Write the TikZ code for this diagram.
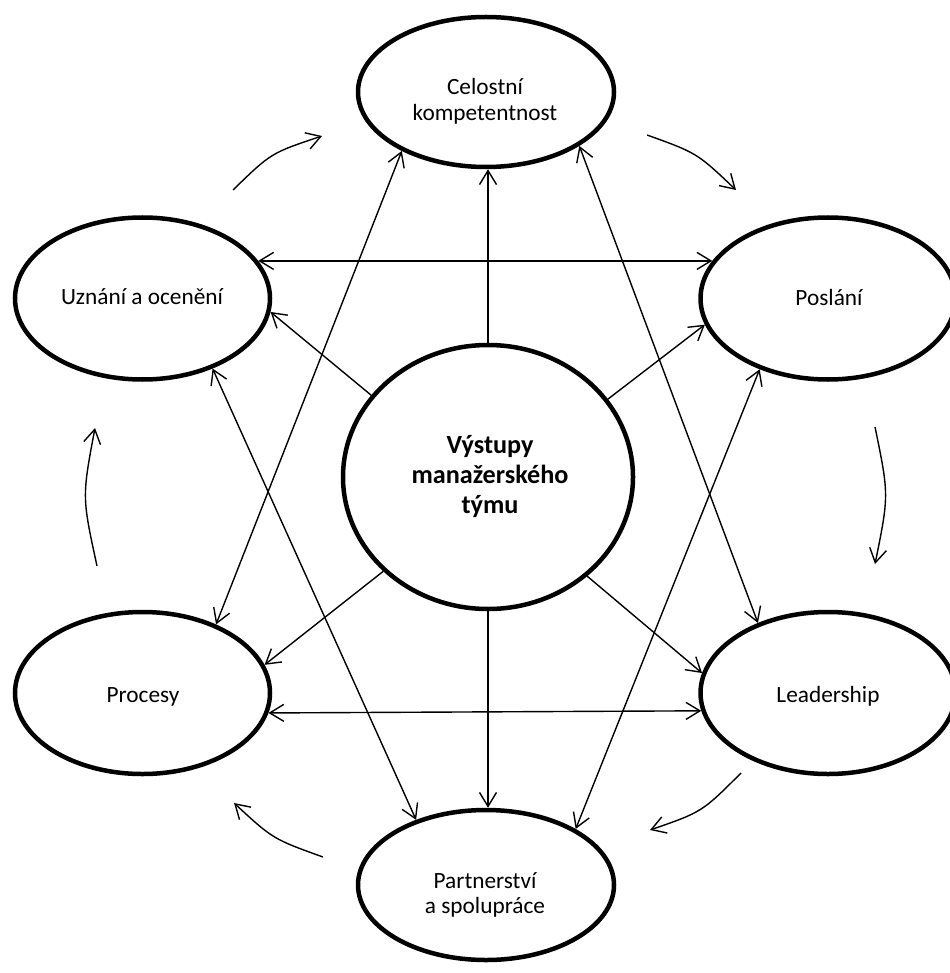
\documentclass[tikz,border=0pt]{standalone}
\usepackage{fontspec}
\setmainfont{Carlito}
\usetikzlibrary{shapes.geometric,arrows.meta}
\begin{document}
\begin{tikzpicture}[x=1pt,y=-1pt,
  oval/.style={ellipse,draw,line width=4.5pt,inner sep=0pt},
  sideoval/.style={oval,minimum width=255pt,minimum height=162pt},
  axisoval/.style={oval,minimum width=256pt,minimum height=150pt},
  label/.style={inner sep=0pt,align=center,font=\fontsize{23.3}{25.5}\selectfont},
  hub/.style={inner sep=0pt,align=center,font=\bfseries\fontsize{26.2}{30}\selectfont},
  link/.style={line width=1.4pt,-{Straight Barb[length=14pt,width=17pt]}},
  both/.style={line width=1.4pt,{Straight Barb[length=14pt,width=17pt]}-{Straight Barb[length=14pt,width=17pt]}},
  cycle/.style={line width=1.4pt,-{Straight Barb[length=14pt,width=17pt]}}
]
\useasboundingbox (0,0) rectangle (949,973);

% outer ring of ellipses
\node[axisoval] (cel) at (486,92) {};
\node[sideoval] (uzn) at (142.5,298.5) {};
\node[sideoval] (pos) at (828,298.5) {};
\node[sideoval] (pro) at (142.5,693) {};
\node[sideoval] (lea) at (828,693) {};
\node[axisoval] (par) at (486,885) {};
% central ellipse
\node[oval,minimum width=290pt,minimum height=264pt] (ctr) at (488,477) {};

% texts
\node[label] (cel-t) at (485,101.3) {Celostní\\kompetentnost};
\node[label,anchor=base] (uzn-t) at (142,304) {Uznání a ocenění};
\node[label,anchor=base] (pos-t) at (829,305) {Poslání};
\node[label,anchor=base] (pro-t) at (143,702) {Procesy};
\node[label,anchor=base] (lea-t) at (828,702) {Leadership};
\node[label] (par-t) at (485,895) {Partnerství\\a spolupráce};
\node[hub] (ctr-t) at (490,476.8) {Výstupy\\manažerského\\týmu};

% spokes from the centre
\draw[link] (ctr.north) -- (ctr.north |- cel.south);
\draw[link] (ctr.south) -- (ctr.south |- par.north);
\draw[link] (ctr.145.4) -- (uzn.354);
\draw[link] (ctr.33) -- (pos.192.4);
\draw[link] (ctr.222.1) -- (pro.13.1);
\draw[link] (ctr.315.6) -- (lea.171.2);

% cross links
\draw[both] (uzn.18) -- (pos.162);
\draw[both] (pro.351.9) -- (lea.188.1);
\draw[both] (cel.215.9) -- (pro.43.2);
\draw[both] (cel.330.6) -- (lea.135);
\draw[both] (uzn.315.8) -- (par.137.5);
\draw[both] (pos.226.7) -- (par.32.6);

% clockwise cycle arrows
\coordinate (a1) at (233,190);  \coordinate (b1) at (322,136);
\coordinate (a2) at (647,135);  \coordinate (b2) at (736,190);
\coordinate (a3) at (875,427);  \coordinate (b3) at (875,564);
\coordinate (a4) at (741,773);  \coordinate (b4) at (650,830);
\coordinate (a5) at (323,857);  \coordinate (b5) at (234,803);
\coordinate (a6) at (97,566);   \coordinate (b6) at (95,428);
\draw[cycle] (a1) .. controls (271,153) .. (b1);
\draw[cycle] (a2) .. controls (697,153) .. (b2);
\draw[cycle] (a3) .. controls (889,495) .. (b3);
\draw[cycle] (a4) .. controls (702,812) .. (b4);
\draw[cycle] (a5) .. controls (273,839) .. (b5);
\draw[cycle] (a6) .. controls (82,497) .. (b6);
\end{tikzpicture}
\end{document}
